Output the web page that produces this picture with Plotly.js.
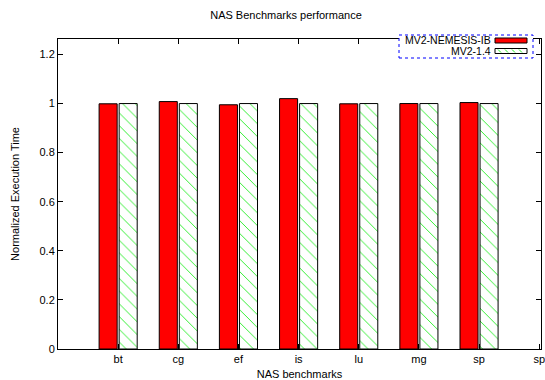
<!DOCTYPE html>
<html>
<head>
<meta charset="utf-8">
<script src="https://cdn.plot.ly/plotly-3.0.1.min.js"></script>
<style>html,body{margin:0;padding:0;background:#fff;}#chart{width:545px;height:380px;}</style>
</head>
<body>
<div id="chart"></div>
<script>
const categories = ["bt", "cg", "ef", "is", "lu", "mg", "sp"];
const tickLabels = ["bt", "cg", "ef", "is", "lu", "mg", "sp", "sp"];
const seriesNames = ["MV2-NEMESIS-IB", "MV2-1.4"];
const nemesisValues = [0.999, 1.008, 0.995, 1.02, 0.999, 1.0, 1.004];
const mv214Values = [1.0, 1.0, 1.0, 1.0, 1.0, 1.0, 1.0];

const xPos = categories.map((c, i) => i);
const tickPos = tickLabels.map((c, i) => i);

const FONT = "Liberation Sans, Arial, sans-serif";

const traces = [
  {
    type: "bar", name: seriesNames[0], x: xPos, y: nemesisValues,
    marker: { color: "#ff0000", line: { color: "#000000", width: 1 } },
    hoverinfo: "y"
  },
  {
    type: "bar", name: seriesNames[1], x: xPos, y: mv214Values,
    marker: {
      color: "#ffffff",
      line: { color: "#000000", width: 1 },
      pattern: { shape: "\\", fgcolor: "#22ee22", bgcolor: "#ffffff", size: 9, solidity: 0.1 }
    },
    hoverinfo: "y"
  }
];

// plot area in pixels: x 58..541, y 39..349
const L = 58, R = 541, T = 39, B = 349;
const px = v => (v - L) / (R - L);
const py = v => (B - v) / (B - T);

const shapes = [
  { type: "rect", xref: "paper", yref: "paper", x0: px(399), x1: px(533), y0: py(58), y1: py(35),
    line: { color: "#0000ff", width: 1, dash: "dot" }, fillcolor: "rgba(255,255,255,1)", layer: "above" },
  { type: "rect", xref: "paper", yref: "paper", x0: px(495), x1: px(527), y0: py(43), y1: py(38),
    line: { color: "#000000", width: 1 }, fillcolor: "#ff0000", layer: "above" },
  { type: "rect", xref: "paper", yref: "paper", x0: px(495), x1: px(527), y0: py(53.5), y1: py(48.5),
    line: { color: "#000000", width: 1 }, fillcolor: "#ffffff", layer: "above" }
];
[498, 505, 512, 519].forEach(x => {
  shapes.push({ type: "line", xref: "paper", yref: "paper", x0: px(x), x1: px(x + 3), y0: py(49.5), y1: py(52.5),
    line: { color: "#22ee22", width: 1 }, layer: "above" });
});

const annotations = [
  { xref: "paper", yref: "paper", x: px(493), y: py(40.3), text: seriesNames[0], showarrow: false,
    xanchor: "right", yanchor: "middle", font: { family: FONT, size: 10.5, color: "#000" } },
  { xref: "paper", yref: "paper", x: px(493), y: py(51.5), text: seriesNames[1], showarrow: false,
    xanchor: "right", yanchor: "middle", font: { family: FONT, size: 10.5, color: "#000" } }
];

const layout = {
  width: 545, height: 380,
  margin: { l: L, r: 545 - R, t: T, b: 380 - B, pad: 0 },
  paper_bgcolor: "#ffffff", plot_bgcolor: "#ffffff",
  showlegend: false,
  barmode: "group", bargap: 1 / 3, bargroupgap: 0.1,
  font: { family: FONT, size: 11, color: "#000" },
  title: { text: "NAS Benchmarks performance", x: px(286), xref: "paper", xanchor: "center",
    y: 1 - 15 / 380, yanchor: "middle", font: { family: FONT, size: 11, color: "#000" } },
  xaxis: {
    type: "linear",
    range: [-1, 7.03], tickmode: "array", tickvals: tickPos, ticktext: tickLabels,
    ticks: "inside", ticklen: 5, tickcolor: "#000", mirror: "allticks",
    ticklabeloverflow: "allow",
    showline: true, linecolor: "#000", linewidth: 1, showgrid: false, zeroline: false,
    tickfont: { family: FONT, size: 11 },
    title: { text: "NAS benchmarks", standoff: 8, font: { family: FONT, size: 11 } },
    automargin: false
  },
  yaxis: {
    range: [0, 1.263], tickmode: "array", tickvals: [0, 0.2, 0.4, 0.6, 0.8, 1, 1.2],
    ticktext: ["0", "0.2", "0.4", "0.6", "0.8", "1", "1.2"],
    ticks: "inside", ticklen: 5, tickcolor: "#000", mirror: "allticks",
    showline: true, linecolor: "#000", linewidth: 1, showgrid: false, zeroline: false,
    tickfont: { family: FONT, size: 11 },
    title: { text: "Normalized Execution Time", standoff: 17, font: { family: FONT, size: 11 } },
    automargin: false
  },
  shapes: shapes,
  annotations: annotations
};

Plotly.newPlot("chart", traces, layout, { displayModeBar: false, staticPlot: true });
</script>
</body>
</html>
